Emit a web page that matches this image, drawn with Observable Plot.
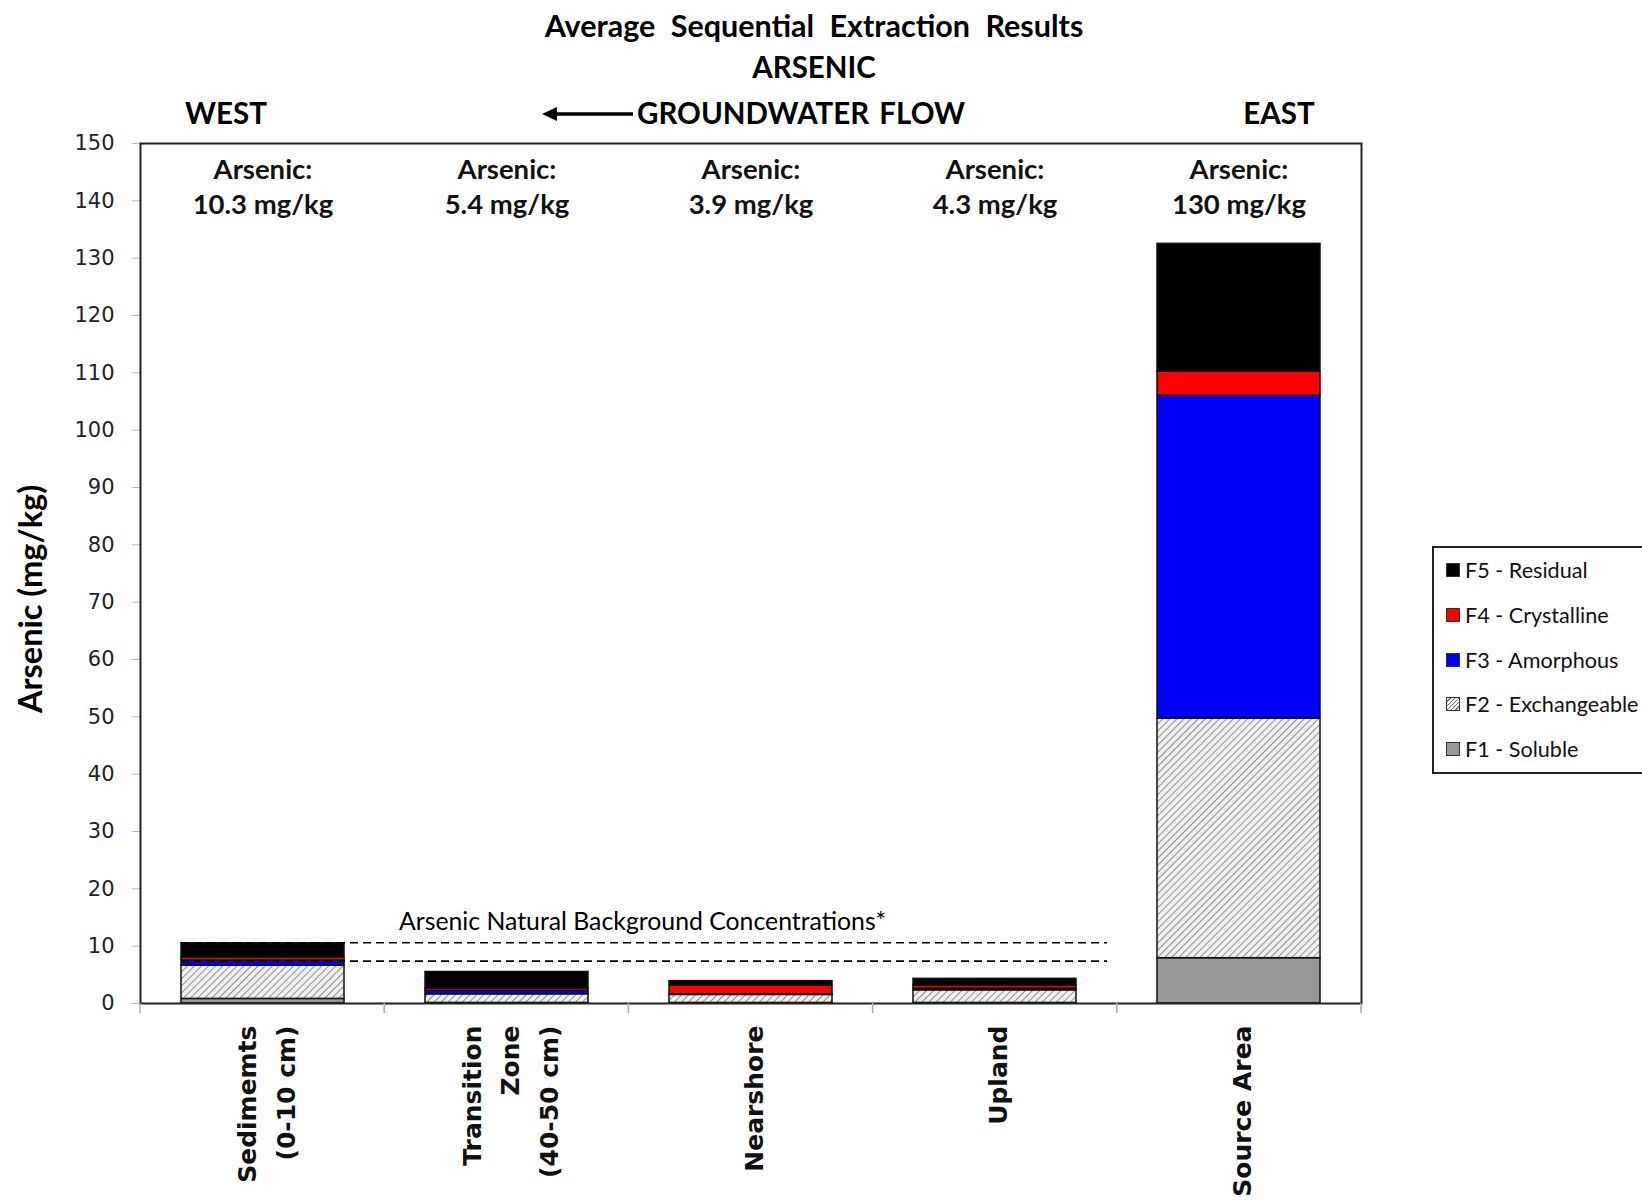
<!DOCTYPE html>
<html><head><meta charset="utf-8">
<script src="https://cdn.jsdelivr.net/npm/d3@7"></script>
<script src="https://cdn.jsdelivr.net/npm/@observablehq/plot@0.6"></script>
<style>
html,body{margin:0;padding:0;background:#fff;overflow:hidden;}
#wrap{position:relative;width:1642px;height:1201px;overflow:hidden;}
#chart{position:absolute;left:0;top:0;}
.t{position:absolute;font-family:Lato,sans-serif;font-weight:bold;color:#000;white-space:nowrap;transform:translate(-50%,-50%);line-height:1;}
#legend{position:absolute;left:1432px;top:546px;width:260px;height:224px;border:2px solid #222;background:#fff;font-family:Lato,sans-serif;font-size:21.6px;color:#111;}
.li{position:absolute;left:12px;display:flex;align-items:center;transform:translateY(-50%);}
.sw{width:12px;height:12px;border:1px solid #333;margin-right:5px;}
svg [aria-label="y-axis tick"] path{stroke:#bbb;}
</style></head><body>
<div id="wrap">
  <div id="chart"></div>
  <div class="t" id="title" style="left:814px;top:25px;font-size:30.5px;word-spacing:8px;">Average Sequential Extraction Results</div>
  <div class="t" id="sub" style="left:814px;top:67px;font-size:29.5px;">ARSENIC</div>
  <div class="t" style="left:226px;top:113px;font-size:29.5px;">WEST</div>
  <div class="t" style="left:637px;top:113px;font-size:29.5px;transform:translate(0,-50%);word-spacing:3px;">GROUNDWATER FLOW</div>
  <div class="t" style="left:1279px;top:113px;font-size:29.5px;">EAST</div>
  <svg style="position:absolute;left:540px;top:104px" width="95" height="20"><line x1="12" y1="10" x2="93" y2="10" stroke="#000" stroke-width="3.5"/><polygon points="2,10 17,3 17,17" fill="#000"/></svg>
  <div class="t" style="left:30px;top:599px;font-size:32.5px;transform:translate(-50%,-50%) rotate(-90deg);">Arsenic (mg/kg)</div>
  <div id="legend"></div>
</div>
<script>
const categories = ["Sedimemts\n(0-10 cm)", "Transition\nZone\n(40-50 cm)", "Nearshore", "Upland", "Source Area"];
const totals = ["10.3 mg/kg", "5.4 mg/kg", "3.9 mg/kg", "4.3 mg/kg", "130 mg/kg"];
const fractions = ["F1 - Soluble", "F2 - Exchangeable", "F3 - Amorphous", "F4 - Crystalline", "F5 - Residual"];
const f1Soluble      = [0.8, 0.1, 0.1, 0.1, 7.9];
const f2Exchangeable = [5.8, 1.5, 1.4, 2.2, 41.8];
const f3Amorphous    = [0.9, 0.6, 0.1, 0.3, 56.3];
const f4Crystalline  = [0.5, 0.4, 1.5, 0.5, 4.2];
const f5Residual     = [2.5, 2.9, 0.8, 1.2, 22.3];
const background = [7.3, 10.5];
const backgroundLabel = "Arsenic Natural Background Concentrations*";
const yTicks = [0, 10, 20, 30, 40, 50, 60, 70, 80, 90, 100, 110, 120, 130, 140, 150];
const fillColors = ["#979797", "url(#hatch)", "#0000ff", "#ff0000", "#000000"];

const series = [f1Soluble, f2Exchangeable, f3Amorphous, f4Crystalline, f5Residual];
const rows = [];
categories.forEach((c, i) => fractions.forEach((f, j) => rows.push({cat: c, fraction: f, value: series[j][i]})));

function boundaryTicks(index, scales, values, dims) {
  const g = d3.create("svg:g");
  const r0 = dims.marginLeft, r1 = dims.width - dims.marginRight;
  const n = categories.length, step = (r1 - r0) / n;
  const yb = dims.height - dims.marginBottom;
  for (let i = 0; i <= n; i++) {
    g.append("line").attr("x1", r0 + i * step).attr("x2", r0 + i * step)
      .attr("y1", yb).attr("y2", yb + 10).attr("stroke", "#aaa").attr("stroke-width", 1.5);
  }
  return g.node();
}
function backgroundLines(index, scales, values, dims) {
  const g = d3.create("svg:g");
  const x = scales.x, y = scales.y;
  const r0 = dims.marginLeft, r1 = dims.width - dims.marginRight;
  const step = (r1 - r0) / categories.length;
  const xa = x(categories[0]);
  const xb = r0 + 4 * step - 0.04 * step;
  background.forEach(v => {
    g.append("line").attr("x1", xa).attr("x2", xb).attr("y1", y(v)).attr("y2", y(v))
      .attr("stroke", "#000").attr("stroke-width", 1.6).attr("stroke-dasharray", "8,5");
  });
  return g.node();
}

const chart = Plot.plot({
  width: 1642, height: 1201,
  marginLeft: 140, marginRight: 281, marginTop: 143, marginBottom: 198,
  style: {background: "transparent", overflow: "visible"},
  x: {domain: categories, paddingInner: 0.33, paddingOuter: 0.165, axis: null},
  y: {domain: [0, 150], axis: null},
  color: {domain: fractions, range: fillColors},
  marks: [
    Plot.barY(rows, {x: "cat", y: "value", fill: "fraction", stroke: "#111", strokeWidth: 1.5}),
    Plot.axisY({ticks: yTicks, tickSize: 8, tickPadding: 18, fontSize: 21, fontFamily: "DejaVu Sans", label: null, color: "#222"}),
    Plot.frame({stroke: "#222", strokeWidth: 2}),
    boundaryTicks,
    backgroundLines,
    Plot.text([backgroundLabel], {x: () => categories[1], y: () => background[1], text: d => d, textAnchor: "start", dx: -108, dy: -21, fontSize: 24.8, fontFamily: "Lato", fill: "#000"}),
    Plot.text(categories, {x: d => d, frameAnchor: "top", text: (d, i) => "Arsenic:\n" + totals[i], lineAnchor: "middle", dy: 42, fontSize: 27.5, fontWeight: "bold", fontFamily: "Lato", lineHeight: 1.25, fill: "#111"}),
    Plot.text(categories, {x: d => d, frameAnchor: "bottom", text: d => d, rotate: -90, textAnchor: "end", lineAnchor: "middle", dy: 22, fontSize: 25, fontWeight: "bold", fontFamily: "DejaVu Sans", lineHeight: 1.55, fill: "#111", ariaLabel: "xlabels"})
  ]
});
document.getElementById("chart").appendChild(chart);

// hatch pattern
const defs = d3.select(chart).insert("defs", ":first-child");
const pat = defs.append("pattern").attr("id", "hatch").attr("patternUnits", "userSpaceOnUse")
  .attr("width", 5).attr("height", 5).attr("patternTransform", "rotate(45)");
pat.append("rect").attr("width", 5).attr("height", 5).attr("fill", "#f0f0f0");
pat.append("line").attr("x1", 0).attr("y1", 0).attr("x2", 0).attr("y2", 5).attr("stroke", "#777").attr("stroke-width", 1.6);

// center multi-line x labels among themselves, block top-aligned
d3.select(chart).selectAll('g[aria-label="xlabels"] text').each(function() {
  const tsp = this.querySelectorAll("tspan");
  if (tsp.length > 1) {
    const max = d3.max(Array.from(tsp), t => t.getComputedTextLength());
    this.setAttribute("text-anchor", "middle");
    tsp.forEach(t => t.setAttribute("x", -max / 2));
  }
});

// legend
const legendOrder = fractions.slice().reverse();
const swatch = {
  "F5 - Residual": "background:#000;",
  "F4 - Crystalline": "background:#ff0000;",
  "F3 - Amorphous": "background:#0000ff;",
  "F2 - Exchangeable": "background:repeating-linear-gradient(135deg,#f3f3f3 0 2px,#777 2px 3px);",
  "F1 - Soluble": "background:#979797;"
};
const lg = document.getElementById("legend");
legendOrder.forEach((f, i) => {
  const d = document.createElement("div");
  d.className = "li";
  d.style.top = (22 + i * 44.8) + "px";
  d.innerHTML = `<span class="sw" style="${swatch[f]}"></span><span>${f}</span>`;
  lg.appendChild(d);
});
</script>
</body></html>
